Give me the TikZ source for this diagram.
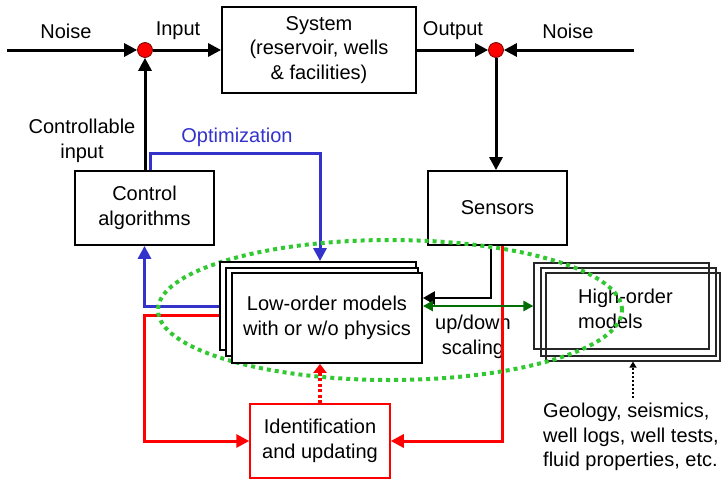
\documentclass[tikz,border=0pt]{standalone}
\usepackage{fontspec}
\setmainfont{Liberation Sans}
\usetikzlibrary{arrows.meta,calc}
\pgfdeclarelayer{front}
\pgfsetlayers{main,front}

\definecolor{optblue}{RGB}{51,51,204}
\definecolor{updred}{RGB}{255,0,0}
\definecolor{scalegreen}{RGB}{0,110,0}
\definecolor{ringgreen}{RGB}{50,200,50}

\begin{document}
\begin{tikzpicture}[x=1pt,y=-1pt,
  font=\fontsize{20}{24.5}\selectfont,
  box/.style={draw=black, line width=1.8pt, fill=white, align=center, inner sep=0pt},
  card/.style={draw=black, line width=1.8pt, fill=white, align=center, inner sep=0pt},
  thincard/.style={draw=black!85, line width=1.2pt, inner sep=0pt},
  junction/.style={circle, draw=black!60!red, line width=0.7pt, fill=red, minimum size=15pt, inner sep=0pt},
  tip/.style={-{Triangle[length=13pt,width=13pt]}},
  flow/.style={line width=3pt, tip},
  optflow/.style={optblue, line width=3pt, tip},
  updflow/.style={updred, line width=3pt, tip},
  lbl/.style={align=center, inner sep=0pt},
]
\useasboundingbox (0,0) rectangle (721,482);

% ---- blocks ----
\node[junction] (sumin) at (145,50) {};
\node[junction] (sumout) at (496,50) {};
\coordinate (noisein) at (7,50);
\coordinate (noiseout) at (634,50);

\node[box, minimum width=194pt, minimum height=86pt] (system) at (319,50)
  {System\\(reservoir, wells\\\& facilities)};
\node[box, minimum width=139pt, minimum height=74pt] (control) at (144.5,208)
  {Control\\algorithms};
\node[box, minimum width=139pt, minimum height=74pt] (sensors) at (497.5,208)
  {Sensors};
\node[box, draw=updred, line width=1.5pt, minimum width=140pt, minimum height=74pt]
  (ident) at (320,441) {Identification\\and updating};

% stacked low-order model cards (kept above the dotted ring)
\begin{pgfonlayer}{front}
  \node[card, minimum width=196pt, minimum height=88pt] (lowA) at (318,306) {};
  \node[card, minimum width=192pt, minimum height=88pt] (lowB) at (322,312) {};
  \node[card, minimum width=190pt, minimum height=90pt] (lowC) at (327,318)
    {Low-order models\\with or w/o physics};
\end{pgfonlayer}

% stacked high-order model sheets
\node[thincard, minimum width=175pt, minimum height=86pt] (highA) at (621.5,306) {};
\node[thincard, minimum width=175pt, minimum height=88pt] (highB) at (628.5,312) {};
\node[thincard, minimum width=174pt, minimum height=88pt] (highC) at (633,317) {};
\node[lbl, align=left, anchor=west] (hitext) at (578,309) {High-order\\models};

% ---- labels ----
\node[lbl] (noiseinlbl) at (66,31) {Noise};
\node[lbl] (inputlbl) at (178,31) {Input};
\node[lbl] (outputlbl) at (453,31) {Output};
\node[lbl] (noiseoutlbl) at (568,31) {Noise};
\node[lbl] (ctrlinlbl) at (82,141) {Controllable\\input};
\node[lbl, text=optblue] (optlbl) at (237,137) {Optimization};
\node[lbl] (scalelbl) at (473,337) {up/down\\scaling};
\node[lbl, align=left, anchor=north west] (geo) at (543,403)
  {Geology, seismics,\\well logs, well tests,\\fluid properties, etc.};

% ---- main loop ----
\draw[flow] (noisein) -- (sumin);
\draw[flow] (sumin) -- (system.west);
\draw[flow] (system.east) -- (sumout);
\draw[flow] (noiseout) -- (sumout);
\draw[flow] (sumout) -- (sumout |- sensors.north);
\draw[flow] (control.north -| sumin) -- (sumin);

% ---- optimization path ----
\coordinate (optcorner) at (320,153);
\draw[optflow] ([xshift=5.5pt]control.north) |- (optcorner) -- (optcorner |- lowA.north);
\draw[optflow] (lowA.west) -| (control.south);

% ---- identification / updating ----
\coordinate (updleft) at (control.south |- ident.west);
\draw[updflow] ([yshift=-9pt]lowA.west) -| (updleft) -- (ident.west);
\draw[updflow] ([xshift=4.5pt]sensors.south) |- (ident.east);
\draw[updred, line width=4pt, dash pattern=on 3pt off 2.5pt,
      -{Triangle[length=9pt,width=13pt]}]
  (ident.north) -- (ident.north |- lowC.south);

% ---- measurements into the low-order model ----
\draw[line width=2.6pt, -{Triangle[length=12pt,width=13pt]}]
  ([xshift=-6.5pt]sensors.south) |- ([yshift=20pt]lowC.east);

% ---- scaling between model levels ----
\draw[scalegreen, line width=2.5pt,
      {Triangle[length=10pt,width=10pt]}-{Triangle[length=10pt,width=10pt]}]
  (lowC.east |- highA.west) -- (highA.west);

% ---- data feeding the high-order model ----
\draw[line width=1.5pt, dash pattern=on 2pt off 2pt, -{Triangle[length=6pt,width=7pt]}]
  ([yshift=5pt]geo.north -| highC.south) -- (highC.south);

% ---- dotted ring around the model levels ----
\draw[ringgreen, line width=4pt, dash pattern=on 4pt off 4pt]
  (390,310) ellipse [x radius=232pt, y radius=70pt];

\end{tikzpicture}
\end{document}
